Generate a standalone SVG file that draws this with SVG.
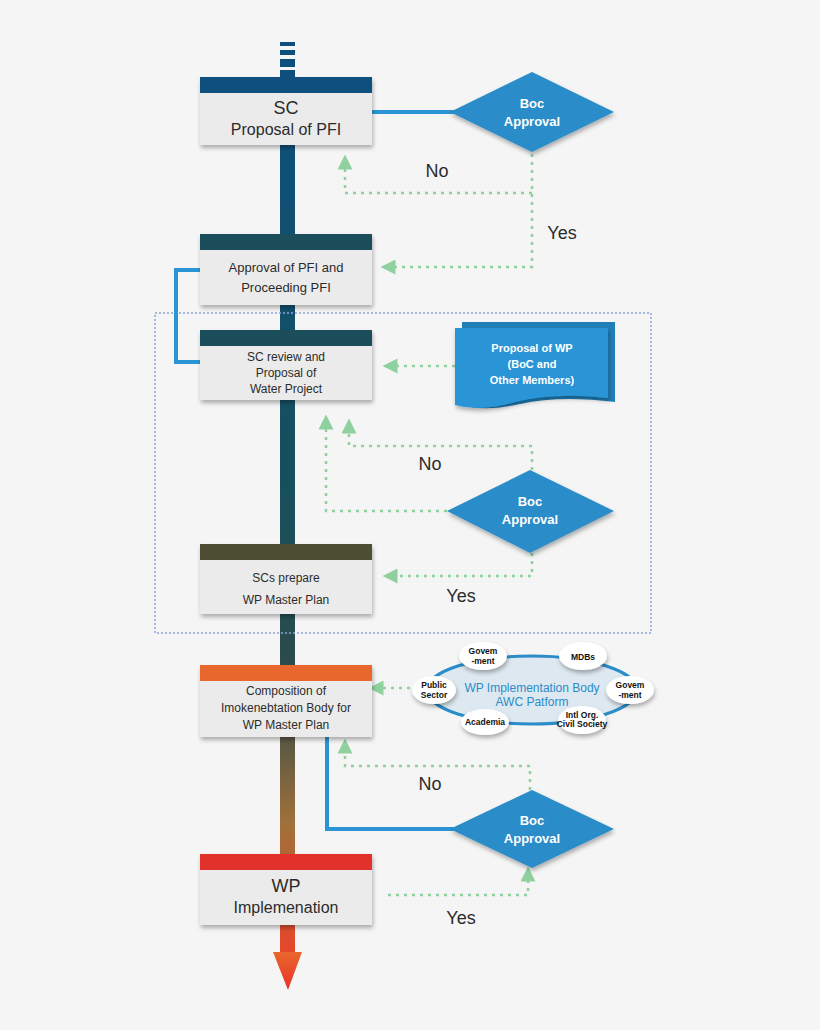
<svg xmlns="http://www.w3.org/2000/svg" width="820" height="1030" viewBox="0 0 820 1030">
<defs>
<linearGradient id="spine" x1="0" y1="0" x2="0" y2="1">
<stop offset="0" stop-color="#0e4f7e"/><stop offset="0.45" stop-color="#15505e"/><stop offset="0.7" stop-color="#2e4a4a"/><stop offset="0.85" stop-color="#a0703a"/><stop offset="1" stop-color="#e8452a"/>
</linearGradient>
<linearGradient id="tip" x1="0" y1="0" x2="0" y2="1"><stop offset="0" stop-color="#e8672c"/><stop offset="1" stop-color="#e8322a"/></linearGradient>
<filter id="sh" x="-10%" y="-10%" width="130%" height="140%"><feDropShadow dx="1" dy="3" stdDeviation="2" flood-opacity="0.3"/></filter>
<marker id="ga" viewBox="0 0 6 6" refX="3" refY="3" markerWidth="6" markerHeight="6" orient="auto"><path d="M0,0 L6,3 L0,6 z" fill="#8fd19e"/></marker>
</defs>
<style>
.box{fill:#ebebeb;filter:url(#sh)}
.t{font-family:"Liberation Sans",Arial,sans-serif;fill:#2b2b2b;text-anchor:middle}
.w{font-family:"Liberation Sans",Arial,sans-serif;fill:#fff;text-anchor:middle;font-weight:bold}
.g{fill:none;stroke:#8fd19e;stroke-width:2.5;stroke-dasharray:3 5;marker-end:url(#ga)}
.b{fill:none;stroke:#2a94d4;stroke-width:4}
.dia{fill:#2a8cc8;filter:url(#sh)}
.el{fill:#fff;filter:url(#sh)}
.s{font-family:"Liberation Sans",Arial,sans-serif;fill:#111;text-anchor:middle;font-size:8.5px;font-weight:bold}
</style>
<rect width="820" height="1030" fill="#f5f5f5"/>
<g id="spine">
<rect x="280" y="42" width="15" height="4" fill="#0e4f7e"/><rect x="280" y="50" width="15" height="5" fill="#0e4f7e"/><rect x="280" y="59" width="15" height="8" fill="#0e4f7e"/>
<rect x="280" y="70" width="15" height="885" fill="url(#spine)"/>
<path d="M273,952 L302,952 L288,990 z" fill="url(#tip)"/>
</g>
<rect x="155" y="313" width="496" height="320" fill="none" stroke="#8aa3d8" stroke-width="1.5" stroke-dasharray="2 2"/>
<g id="connectors">
<path class="b" d="M372,112 L460,112"/>
<path class="b" d="M200,270 L176,270 L176,362 L200,362"/>
<path class="b" d="M327,737 L327,829 L460,829"/>
<path class="g" d="M532,154 L532,267 L388,267"/>
<path class="g" d="M532,193 L345,193 L345,162"/>
<path class="g" d="M455,366 L390,366"/>
<path class="g" d="M532,470 L532,446 L349,446 L349,426"/>
<path class="g" d="M447,511 L326,511 L326,422"/>
<path class="g" d="M532,553 L532,576 L390,576"/>
<path class="g" d="M418,688 L376,688"/>
<path class="g" d="M530,790 L530,766 L345,766 L345,746"/>
<path class="g" d="M388,895 L528,895 L528,874"/>
</g>
<g id="n1"><rect class="box" x="200" y="77" width="172" height="68"/><rect x="200" y="77" width="172" height="16" fill="#0e4f7e"/>
<text class="t" x="286" y="114" font-size="18">SC</text><text class="t" x="286" y="135" font-size="16">Proposal of PFI</text></g>
<g id="d1"><path class="dia" d="M532,72 L614,112 L532,152 L450,112 z"/><text class="w" x="532" y="108" font-size="13">Boc</text><text class="w" x="532" y="126" font-size="13">Approval</text></g>
<g id="n2"><rect class="box" x="200" y="234" width="172" height="71"/><rect x="200" y="234" width="172" height="16" fill="#1b4d5a"/>
<text class="t" x="286" y="272" font-size="13">Approval of PFI and</text><text class="t" x="286" y="292" font-size="13">Proceeding PFI</text></g>
<g id="n3"><rect class="box" x="200" y="330" width="172" height="70"/><rect x="200" y="330" width="172" height="16" fill="#1b4d5a"/>
<text class="t" x="286" y="361" font-size="12">SC review and</text><text class="t" x="286" y="377" font-size="12">Proposal of</text><text class="t" x="286" y="393" font-size="12">Water Project</text></g>
<g id="doc"><path d="M462,322 L615,322 L615,402 Q560,395 520,404 Q485,412 462,405 z" fill="#1f7fb8"/>
<path d="M455,328 L608,328 L608,398 Q555,392 515,402 Q480,412 455,405 z" fill="#2a95d6" filter="url(#sh)"/>
<text class="w" x="532" y="352" font-size="11" font-weight="normal">Proposal of WP</text><text class="w" x="532" y="368" font-size="11" font-weight="normal">(BoC and</text><text class="w" x="532" y="384" font-size="11" font-weight="normal">Other Members)</text></g>
<g id="d2"><path class="dia" d="M530,470 L614,511 L530,553 L447,511 z"/><text class="w" x="530" y="506" font-size="13">Boc</text><text class="w" x="530" y="524" font-size="13">Approval</text></g>
<g id="n4"><rect class="box" x="200" y="544" width="172" height="70"/><rect x="200" y="544" width="172" height="16" fill="#4e4e35"/>
<text class="t" x="286" y="582" font-size="12">SCs prepare</text><text class="t" x="286" y="604" font-size="12">WP Master Plan</text></g>
<g id="n5"><rect class="box" x="200" y="665" width="172" height="72"/><rect x="200" y="665" width="172" height="16" fill="#e8672c"/>
<text class="t" x="286" y="695" font-size="12">Composition of</text><text class="t" x="286" y="712" font-size="12">Imokenebtation Body for</text><text class="t" x="286" y="729" font-size="12">WP Master Plan</text></g>
<g id="awc"><ellipse cx="532" cy="690" rx="105" ry="34" fill="#dde8f0" stroke="#2a8cc8" stroke-width="3"/>
<text x="532" y="692" font-family="Liberation Sans,Arial,sans-serif" font-size="12" fill="#2a8cc8" text-anchor="middle">WP Implementation Body</text>
<text x="532" y="706" font-family="Liberation Sans,Arial,sans-serif" font-size="12" fill="#2a8cc8" text-anchor="middle">AWC Patform</text>
<ellipse class="el" cx="483" cy="656" rx="24" ry="14"/><text class="s" x="483" y="654">Govem</text><text class="s" x="483" y="664">-ment</text>
<ellipse class="el" cx="583" cy="656" rx="24" ry="14"/><text class="s" x="583" y="660" font-size="10">MDBs</text>
<ellipse class="el" cx="434" cy="690" rx="22" ry="14"/><text class="s" x="434" y="688">Public</text><text class="s" x="434" y="698">Sector</text>
<ellipse class="el" cx="630" cy="690" rx="24" ry="14"/><text class="s" x="630" y="688">Govem</text><text class="s" x="630" y="698">-ment</text>
<ellipse class="el" cx="485" cy="722" rx="24" ry="13"/><text class="s" x="485" y="725">Academia</text>
<ellipse class="el" cx="582" cy="720" rx="24" ry="14"/><text class="s" x="582" y="718" font-size="7.5">Intl Org.</text><text class="s" x="582" y="727" font-size="7.5">Civil Society</text></g>
<g id="d3"><path class="dia" d="M532,790 L614,829 L532,868 L450,829 z"/><text class="w" x="532" y="825" font-size="13">Boc</text><text class="w" x="532" y="843" font-size="13">Approval</text></g>
<g id="n6"><rect class="box" x="200" y="854" width="172" height="71"/><rect x="200" y="854" width="172" height="16" fill="#e0322a"/>
<text class="t" x="286" y="892" font-size="18">WP</text><text class="t" x="286" y="913" font-size="16">Implemenation</text></g>
<g id="labels">
<text class="t" x="437" y="177" font-size="18">No</text><text class="t" x="562" y="239" font-size="18">Yes</text>
<text class="t" x="430" y="470" font-size="18">No</text><text class="t" x="461" y="602" font-size="18">Yes</text>
<text class="t" x="430" y="790" font-size="18">No</text><text class="t" x="461" y="924" font-size="18">Yes</text>
</g>
</svg>
